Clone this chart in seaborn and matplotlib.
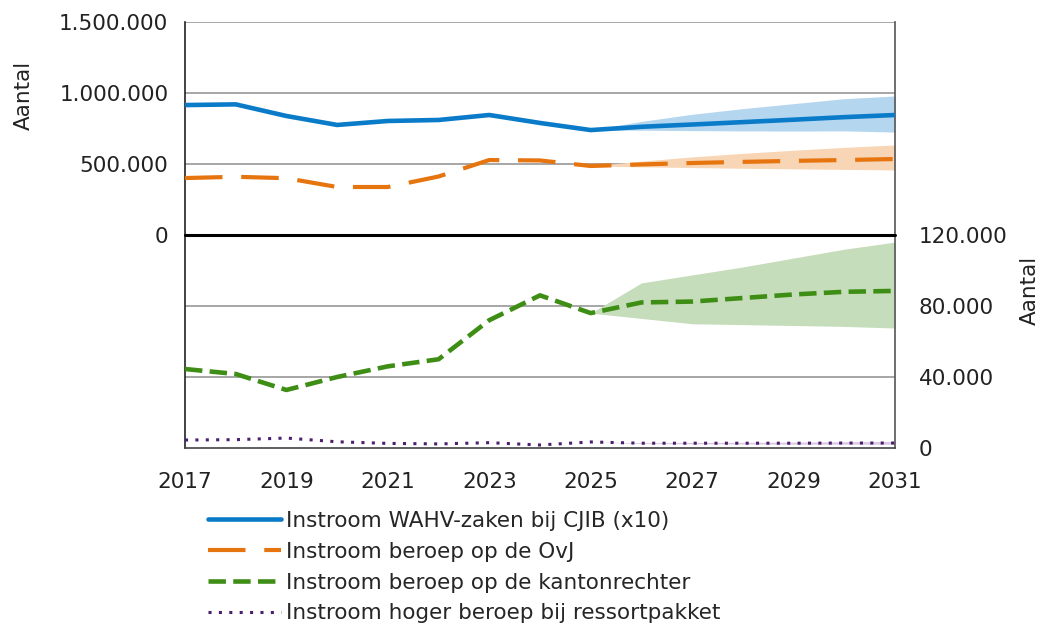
import matplotlib
matplotlib.use("Agg")
import matplotlib.pyplot as plt
import matplotlib.ticker as mticker
import seaborn as sns
import pandas as pd

sns.set_theme(style="white")
plt.rcParams['font.family'] = ['DejaVu Sans']

years = list(range(2017, 2032))
fc_years = list(range(2025, 2032))

# Top panel (left axis)
wahv = [915000, 920000, 838000, 775000, 803000, 810000, 845000, 789000, 739000,
        762000, 778000, 795000, 812000, 830000, 845000]
wahv_low = [739000, 738000, 735000, 733000, 732000, 733000, 725000]
wahv_high = [739000, 800000, 850000, 890000, 925000, 960000, 979000]

ovj = [401000, 410000, 400000, 338000, 338000, 412000, 528000, 525000, 486000,
       497000, 507000, 515000, 522000, 528000, 535000]
ovj_low = [486000, 480000, 475000, 470000, 466000, 462000, 458000]
ovj_high = [486000, 520000, 550000, 575000, 597000, 617000, 634000]

# Bottom panel (right axis)
kanton = [44500, 41700, 32700, 40000, 46000, 50000, 72000, 86000, 76000,
          82000, 82500, 84500, 86500, 88000, 88500]
kanton_low = [76000, 73000, 70000, 69500, 69000, 68500, 67600]
kanton_high = [76000, 93000, 97500, 102000, 107000, 112000, 116000]

ressort = [4500, 4700, 5600, 3500, 2600, 2300, 3000, 1700, 3400,
           2700, 2700, 2700, 2700, 2800, 2800]
ressort_low = [3400, 2500, 2400, 2300, 2200, 2200, 2100]
ressort_high = [3400, 3000, 3100, 3200, 3300, 3500, 3700]

labels = ["Instroom WAHV-zaken bij CJIB (x10)",
          "Instroom beroep op de OvJ",
          "Instroom beroep op de kantonrechter",
          "Instroom hoger beroep bij ressortpakket"]

c_blue = "#0A7BC8"
c_orange = "#E6740F"
c_green = "#3E8E15"
c_purple = "#4B1E6E"

fig = plt.figure(figsize=(10.41, 6.25), dpi=100)
L, R = 185 / 1041, 895 / 1041
top_y, mid_y, bot_y = 1 - 22 / 625, 1 - 235 / 625, 1 - 448 / 625
ax1 = fig.add_axes([L, mid_y, R - L, top_y - mid_y])
ax2 = fig.add_axes([L, bot_y, R - L, mid_y - bot_y])

fs = 15.5
grid_c = "#A6A6A6"
txt_c = "#222222"
fmt = mticker.FuncFormatter(lambda v, p: f"{int(v):,}".replace(",", "."))

# Top panel
ax1.fill_between(fc_years, wahv_low, wahv_high, color="#B4D6EF", lw=0, zorder=1)
ax1.fill_between(fc_years, ovj_low, ovj_high, color="#F8D5B4", lw=0, zorder=1)
df1 = pd.DataFrame({"jaar": years, "wahv": wahv, "ovj": ovj})
sns.lineplot(data=df1, x="jaar", y="wahv", ax=ax1, color=c_blue, lw=3.3, zorder=3)
sns.lineplot(data=df1, x="jaar", y="ovj", ax=ax1, color=c_orange, lw=3.0, zorder=3,
             linestyle=(0, (9, 4.5)))
ax1.set_ylim(0, 1500000)
ax1.set_xlim(2017, 2031)
ax1.set_yticks([0, 500000, 1000000, 1500000])
for v in [500000, 1000000, 1500000]:
    ax1.axhline(v, color=grid_c, lw=1.4, zorder=0)
ax1.yaxis.set_major_formatter(fmt)
ax1.set_xticks([])
ax1.set_xlabel("")
ax1.set_ylabel("")
ax1.tick_params(axis="y", labelsize=fs, length=0, pad=12, colors=txt_c)
ax1.spines["top"].set_visible(False)
ax1.spines["bottom"].set_visible(False)
ax1.spines["left"].set_color("#222222")
ax1.spines["right"].set_color("#555555")
ax1.spines["left"].set_linewidth(1.2)
ax1.spines["right"].set_linewidth(1.2)

# Bottom panel
ax2.fill_between(fc_years, kanton_low, kanton_high, color="#C5DDBA", lw=0, zorder=1)
ax2.fill_between(fc_years, ressort_low, ressort_high, color="#D9C8E3", lw=0, zorder=1)
df2 = pd.DataFrame({"jaar": years, "kanton": kanton, "ressort": ressort})
sns.lineplot(data=df2, x="jaar", y="kanton", ax=ax2, color=c_green, lw=3.3, zorder=3,
             linestyle=(0, (3.8, 1.6)))
sns.lineplot(data=df2, x="jaar", y="ressort", ax=ax2, color=c_purple, lw=2.2, zorder=3,
             linestyle=(0, (1, 2.4)))
ax2.set_ylim(0, 120000)
ax2.set_xlim(2017, 2031)
for v in [40000, 80000]:
    ax2.axhline(v, color=grid_c, lw=1.4, zorder=0)
ax2.axhline(120000, color="black", lw=2.2, zorder=4, clip_on=False)
ax2.yaxis.tick_right()
ax2.set_yticks([0, 40000, 80000, 120000])
ax2.yaxis.set_major_formatter(fmt)
ax2.set_xticks(list(range(2017, 2032, 2)))
ax2.set_xlabel("")
ax2.set_ylabel("")
ax2.tick_params(axis="y", labelsize=fs, length=0, pad=17, colors=txt_c)
ax2.tick_params(axis="x", labelsize=fs, length=0, pad=17, colors=txt_c)
ax2.spines["top"].set_visible(False)
ax2.spines["left"].set_color("#222222")
ax2.spines["right"].set_color("#555555")
ax2.spines["bottom"].set_color("#444444")
for s in ["left", "right", "bottom"]:
    ax2.spines[s].set_linewidth(1.2)

fig.text(24 / 1041, 1 - 95 / 625, "Aantal", rotation=90, ha="center", va="center",
         fontsize=fs, color=txt_c)
fig.text(1030 / 1041, 1 - 290 / 625, "Aantal", rotation=90, ha="center", va="center",
         fontsize=fs, color=txt_c)

handles = [
    plt.Line2D([], [], color=c_blue, lw=3.3),
    plt.Line2D([], [], color=c_orange, lw=3.0, linestyle=(0, (9, 4.5))),
    plt.Line2D([], [], color=c_green, lw=3.3, linestyle=(0, (3.8, 1.6))),
    plt.Line2D([], [], color=c_purple, lw=2.2, linestyle=(0, (1, 2.4))),
]
fig.legend(handles, labels, loc="upper left", bbox_to_anchor=(208 / 1041, 1 - 511 / 625),
           frameon=False, fontsize=fs, handlelength=3.4, handletextpad=0.2,
           labelspacing=0.5, borderaxespad=0, borderpad=0)

fig.savefig("out.png", dpi=100)
